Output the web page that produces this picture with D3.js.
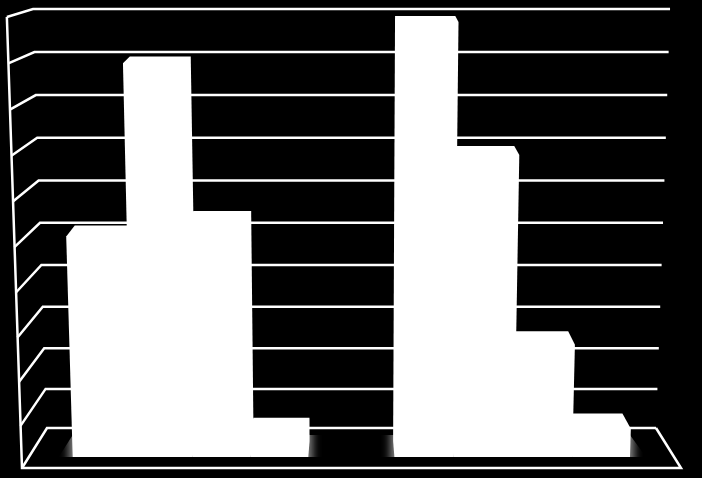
<!DOCTYPE html>
<html>
<head>
<meta charset="utf-8">
<script src="https://cdn.jsdelivr.net/npm/d3@7/dist/d3.min.js"></script>
<style>
  html, body { margin: 0; padding: 0; background: #000; overflow: hidden; }
  svg { display: block; }
</style>
</head>
<body>
<svg id="chart" width="702" height="478"></svg>
<script>
// values, the chart has no labels at all
var categories = ["group 1", "group 2"];
var seriesNames = ["a", "b", "c", "d"];
var group1Values = [5.07, 9.05, 5.41, 0.55];
var group2Values = [10, 6.94, 2.58, 0.65];
var gridValues = [0, 1, 2, 3, 4, 5, 6, 7, 8, 9, 10];

var width = 702, height = 478;
var svg = d3.select("#chart");

// the box leans outwards from the middle of the picture as it goes up
var centerX = 351;
var lean = d3.scaleLinear().domain([0, 10]).range([1, 1.046]);
var leanX = function(x, v) {
  return centerX + (x - centerX) * lean(v);
};

// height scales for the three depths in the box
var yBack = d3.scalePow().exponent(1.03).domain([0, 10]).range([428, 9]);
var yFront = d3.scalePow().exponent(1.03).domain([0, 10]).range([468, 17]);
var yBar = d3.scaleLinear().domain([0, 10]).range([457, 22]);
// how far the back of a bar sits above its front
var barDepth = d3.scaleLinear().domain([0, 10]).range([16, 6]);
var backShrink = 0.97;

var wallLeftFront = 22, wallLeftBack = 47, wallRightBack = 656, wallRightFront = 681;

var x0 = d3.scaleBand().domain(categories).range([72.7, 630]).paddingInner(0.2677);
// bars are not quite the same width in the picture
var x1 = d3.scaleLinear().domain([0, 1, 2, 3, 4]).range([0, 0.252, 0.508, 0.755, 1].map(function(f) {
  return f * x0.bandwidth();
}));

// shadow on the floor, cut along the front of the bars and slanted at the outer ends
var shadowTop = yBack(0) + 7;
var defs = svg.append("defs");
defs.append("filter").attr("id", "blur")
  .attr("x", "-20%").attr("width", "140%").attr("y", "-50%").attr("height", "200%")
  .append("feGaussianBlur").attr("stdDeviation", 4);
defs.append("clipPath").attr("id", "floorClip")
  .append("path").attr("d", d3.line()([
    [x0.range()[0] - 14, yBar(0)],
    [x0.range()[0], shadowTop],
    [x0.range()[1], shadowTop],
    [x0.range()[1] + 16, yBar(0)]
  ]) + "Z");

svg.append("g").attr("clip-path", "url(#floorClip)")
  .selectAll("rect").data(categories).join("rect")
  .attr("x", function(d) { return x0(d) - 4; })
  .attr("y", yBack(0))
  .attr("width", x0.bandwidth() + 8)
  .attr("height", 40)
  .attr("fill", "#888")
  .attr("filter", "url(#blur)");

// walls and floor
var gridLine = function(v) {
  return [
    [leanX(wallLeftFront, v), yFront(v)],
    [leanX(wallLeftBack, v), yBack(v)],
    [leanX(wallRightBack, v), yBack(v)]
  ];
};
var grid = svg.append("g").attr("fill", "none").attr("stroke", "#fff").attr("stroke-width", 2.5);
grid.selectAll("path").data(gridValues).join("path")
  .attr("d", function(v) { return d3.line()(gridLine(v)); });
grid.append("path").attr("d", d3.line()([
  [leanX(wallLeftFront, 10), yFront(10)],
  [leanX(wallLeftFront, 0), yFront(0)],
  [wallRightFront, yFront(0)],
  [leanX(wallRightBack, 0), yBack(0)]
]));

// a bar is the outline of its eight corners
var barOutline = function(left, right, v) {
  var pts = [];
  [[left, 0], [right, 0], [left, v], [right, v]].forEach(function(c) {
    var fx = leanX(c[0], c[1]), fy = yBar(c[1]);
    pts.push([fx, fy]);
    pts.push([centerX + (fx - centerX) * backShrink, fy - barDepth(c[1])]);
  });
  return d3.polygonHull(pts);
};

var groups = [group1Values, group2Values];
var bars = svg.append("g").attr("fill", "#fff");
groups.forEach(function(values, i) {
  bars.selectAll("path.g" + i).data(values).join("path")
    .attr("class", "g" + i)
    .attr("d", function(v, j) {
      var start = x0(categories[i]);
      return d3.line().curve(d3.curveLinearClosed)(barOutline(start + x1(j), start + x1(j + 1), v));
    });
});
</script>
</body>
</html>
